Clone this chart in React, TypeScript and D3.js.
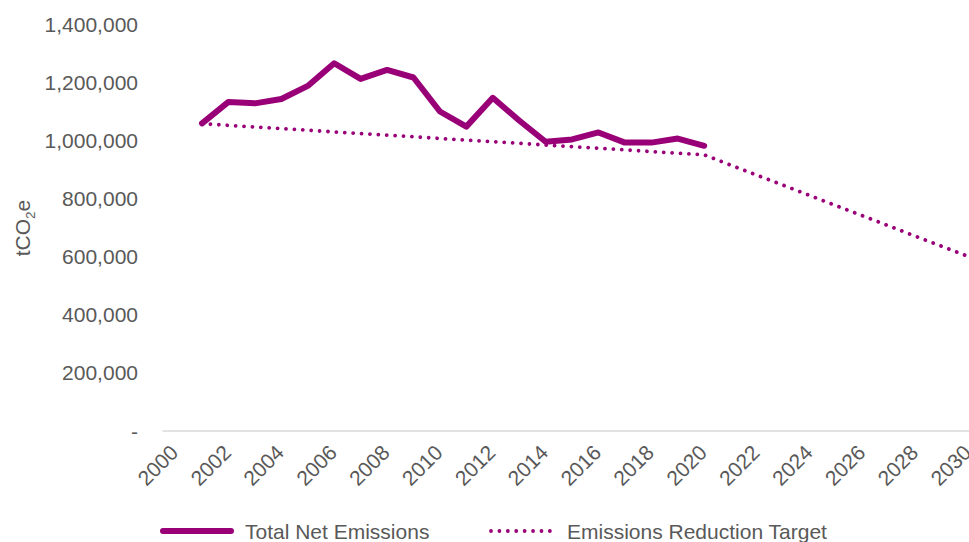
import React from "react";
import * as d3 from "d3";

// Years on the category axis
const years: number[] = d3.range(2000, 2031);

// Total net emissions (tCO2e), 2001–2020
const emissionYears = [2001, 2002, 2003, 2004, 2005, 2006, 2007, 2008, 2009, 2010, 2011, 2012, 2013, 2014, 2015, 2016, 2017, 2018, 2019, 2020];
const emissionValues = [1058000, 1132000, 1127000, 1142000, 1187000, 1265000, 1211000, 1242000, 1216000, 1099000, 1047000, 1146000, 1068000, 995000, 1003000, 1027000, 992000, 992000, 1006000, 981000];

// Emissions reduction target (tCO2e), vertices of the target path
const targetYears = [2001, 2020, 2030];
const targetValues = [1057000, 950000, 600000];

const yTicks = [0, 200000, 400000, 600000, 800000, 1000000, 1200000, 1400000];
const xTickLabels = years.filter((y) => y % 2 === 0);

const W = 969;
const H = 542;
const PURPLE = "#990077";
const TEXT = "#595959";
const FONT = "'Liberation Sans', Arial, sans-serif";
const FS = 21;

export default function App() {
  const plotLeft = 162.4;
  const plotRight = 981.7;
  const plotTop = 24;
  const plotBottom = 431;

  const x = d3
    .scaleBand<number>()
    .domain(years)
    .range([plotLeft, plotRight])
    .paddingInner(0)
    .paddingOuter(0);
  const cx = (yr: number) => (x(yr) as number) + x.bandwidth() / 2;

  const y = d3.scaleLinear().domain([0, 1400000]).range([plotBottom, plotTop]);

  const line = d3
    .line<[number, number]>()
    .x((d) => cx(d[0]))
    .y((d) => y(d[1]));

  const emissions: [number, number][] = emissionYears.map((yr, i) => [yr, emissionValues[i]]);
  const target: [number, number][] = targetYears.map((yr, i) => [yr, targetValues[i]]);

  const fmt = d3.format(",");

  return (
    <svg
      width={W}
      height={H}
      style={{ position: "absolute", left: 0, top: 0, background: "#fff" }}
      fontFamily={FONT}
    >
      {/* y-axis tick labels */}
      {yTicks.map((t) => (
        <text
          key={t}
          x={138}
          y={y(t)}
          dy="0.36em"
          textAnchor="end"
          fontSize={FS}
          fill={TEXT}
        >
          {t === 0 ? "-" : fmt(t)}
        </text>
      ))}

      {/* y-axis title */}
      <text
        transform={`translate(30, 228) rotate(-90)`}
        textAnchor="middle"
        fontSize={FS}
        fill={TEXT}
      >
        tCO
        <tspan fontSize={13.5} dy={5}>2</tspan>
        <tspan dy={-5}>e</tspan>
      </text>

      {/* x-axis baseline */}
      <line x1={plotLeft} x2={plotRight} y1={plotBottom} y2={plotBottom} stroke="#d9d9d9" strokeWidth={1.5} />

      {/* x-axis tick labels */}
      {xTickLabels.map((yr) => (
        <text
          key={yr}
          transform={`translate(${cx(yr) + 4}, 454) rotate(-45)`}
          textAnchor="end"
          fontSize={FS}
          fill={TEXT}
        >
          {yr}
        </text>
      ))}

      {/* target line */}
      <path
        d={line(target) || ""}
        fill="none"
        stroke={PURPLE}
        strokeWidth={3.8}
        strokeLinecap="round"
        strokeDasharray="0.01 8.4"
      />

      {/* emissions line */}
      <path
        d={line(emissions) || ""}
        fill="none"
        stroke={PURPLE}
        strokeWidth={6}
        strokeLinecap="round"
        strokeLinejoin="round"
      />

      {/* legend */}
      <g>
        <line x1={163} x2={231} y1={531} y2={531} stroke={PURPLE} strokeWidth={6} strokeLinecap="round" />
        <text x={245} y={531} dy="0.36em" fontSize={FS} fill={TEXT}>
          Total Net Emissions
        </text>
        <line
          x1={491}
          x2={558}
          y1={531}
          y2={531}
          stroke={PURPLE}
          strokeWidth={3.8}
          strokeLinecap="round"
          strokeDasharray="0.01 8.4"
        />
        <text x={567} y={531} dy="0.36em" fontSize={FS} fill={TEXT}>
          Emissions Reduction Target
        </text>
      </g>
    </svg>
  );
}
